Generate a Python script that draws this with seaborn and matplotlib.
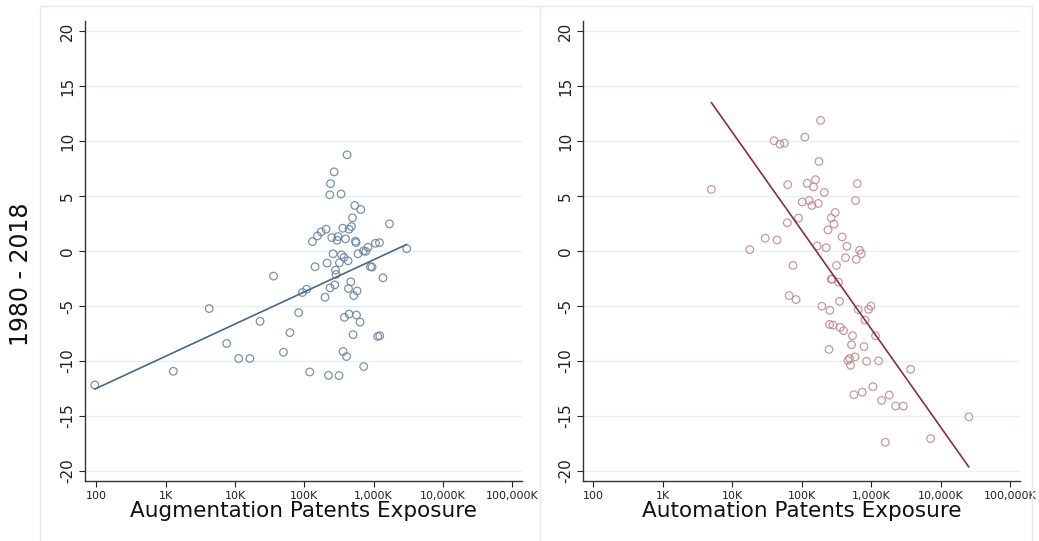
import numpy as np
import pandas as pd
import seaborn as sns
import matplotlib.pyplot as plt
from matplotlib.patches import Rectangle
from matplotlib.ticker import FixedLocator, FuncFormatter, NullLocator

# Augmentation exposure (x) vs. outcome (y)
aug_x = [414e3, 269e3, 239e3, 233e3, 339e3, 535e3, 652e3, 495e3, 1690e3, 479e3,
         442e3, 359e3, 206e3, 175e3, 155e3, 131e3, 249e3, 307e3, 297e3, 393e3,
         547e3, 557e3, 1062e3, 1213e3, 3000e3, 830e3, 713e3, 769e3, 596e3, 260e3,
         344e3, 374e3, 428e3, 321e3, 213e3, 143e3, 899e3, 948e3, 282e3, 287e3,
         36e3, 1365e3, 468e3, 275e3, 235e3, 434e3, 577e3, 517e3, 108e3, 94e3,
         199e3, 4.25e3, 83e3, 442e3, 379e3, 565e3, 637e3, 23e3, 62e3, 505e3,
         1146e3, 1224e3, 7.6e3, 50e3, 362e3, 406e3, 11.3e3, 16.4e3, 720e3, 1.29e3,
         120e3, 223e3, 317e3, 95]
aug_y = [8.74, 7.19, 6.12, 5.11, 5.18, 4.14, 3.77, 3.01, 2.47, 2.22,
         1.98, 2.07, 1.98, 1.74, 1.37, 0.85, 1.21, 1.31, 0.98, 1.10,
         0.89, 0.76, 0.70, 0.76, 0.21, 0.34, 0.0, -0.03, -0.25, -0.25,
         -0.34, -0.58, -0.89, -1.07, -1.10, -1.43, -1.43, -1.46, -1.74, -2.13,
         -2.28, -2.44, -2.80, -3.08, -3.35, -3.41, -3.63, -4.05, -3.47, -3.77,
         -4.20, -5.23, -5.60, -5.73, -6.03, -5.82, -6.46, -6.39, -7.42, -7.60,
         -7.76, -7.70, -8.40, -9.20, -9.13, -9.59, -9.77, -9.77, -10.50, -10.93,
         -10.99, -11.30, -11.32, -12.17]
aug_fit_x = [95, 3000e3]
aug_fit_y = [-12.55, 0.60]

# Automation exposure (x) vs. outcome (y)
aut_x = [5.0e3, 187e3, 111e3, 40e3, 48.5e3, 56.5e3, 177e3, 158e3, 120e3, 148e3,
         63e3, 211e3, 631e3, 596e3, 102e3, 128e3, 140e3, 173e3, 304e3, 266e3,
         291e3, 239e3, 90e3, 62e3, 29.8e3, 44e3, 17.9e3, 167e3, 225e3, 383e3,
         448e3, 681e3, 720e3, 610e3, 428e3, 75e3, 317e3, 266e3, 275e3, 339e3,
         66e3, 83e3, 351e3, 195e3, 255e3, 652e3, 918e3, 993e3, 814e3, 252e3,
         282e3, 359e3, 400e3, 540e3, 1157e3, 522e3, 788e3, 247e3, 585e3, 463e3,
         489e3, 505e3, 859e3, 1279e3, 3.70e6, 1062e3, 565e3, 745e3, 1413e3, 1824e3,
         2248e3, 2904e3, 25.5e6, 7.18e6, 1596e3]
aut_y = [5.60, 11.87, 10.35, 10.02, 9.71, 9.80, 8.13, 6.48, 6.15, 5.82,
         6.03, 5.32, 6.12, 4.59, 4.45, 4.59, 4.14, 4.32, 3.50, 3.01,
         2.44, 1.92, 2.99, 2.56, 1.16, 1.00, 0.12, 0.46, 0.30, 1.28,
         0.43, 0.06, -0.25, -0.76, -0.61, -1.31, -1.31, -2.56, -2.56, -2.83,
         -4.05, -4.41, -4.57, -5.02, -5.39, -5.32, -5.30, -5.00, -6.27, -6.67,
         -6.73, -6.94, -7.24, -7.70, -7.70, -8.52, -8.68, -8.95, -9.62, -9.95,
         -9.77, -10.38, -10.02, -9.98, -10.75, -12.33, -13.06, -12.83, -13.58, -13.09,
         -14.09, -14.09, -15.07, -17.05, -17.38]
aut_fit_x = [5.0e3, 25.5e6]
aut_fit_y = [13.49, -19.63]

x_ticks = [1e2, 1e3, 1e4, 1e5, 1e6, 1e7, 1e8]
x_tick_labels = ["100", "1K", "10K", "100K", "1,000K", "10,000K", "100,000K"]
y_ticks = [-20, -15, -10, -5, 0, 5, 10, 15, 20]

sns.set_theme(style="white")
plt.rcParams['font.family'] = ['DejaVu Sans']

W, H = 1039, 541
fig = plt.figure(figsize=(W / 100, H / 100), dpi=100)

# light panel frames
for x0, x1 in [(40, 540), (540, 1032)]:
    fig.patches.append(Rectangle((x0 / W, -0.05), (x1 - x0) / W, 1.05 - 6 / H,
                                 transform=fig.transFigure, fill=False,
                                 edgecolor="#e2ecef", linewidth=1.0, zorder=0))

panels = [
    dict(x=aug_x, y=aug_y, fx=aug_fit_x, fy=aug_fit_y, left=85, right=522,
         xlim=(68.7, 1.38e8), mcol="#6d87a3", lcol="#46698c",
         label="Augmentation Patents Exposure"),
    dict(x=aut_x, y=aut_y, fx=aut_fit_x, fy=aut_fit_y, left=583, right=1020,
         xlim=(71, 1.39e8), mcol="#c48d90", lcol="#8e2f36",
         label="Automation Patents Exposure"),
]

top_px, bot_px = 21, 481
for p in panels:
    ax = fig.add_axes([p["left"] / W, 1 - bot_px / H,
                       (p["right"] - p["left"]) / W, (bot_px - top_px) / H])
    df = pd.DataFrame({"x": p["x"], "y": p["y"]})
    fit = pd.DataFrame({"x": p["fx"], "y": p["fy"]})
    for yv in y_ticks:
        ax.axhline(yv, color="#e6eff1", linewidth=1.0, zorder=0)
    sns.scatterplot(data=df, x="x", y="y", ax=ax, marker="o", s=30,
                    facecolor="none", edgecolor=p["mcol"], linewidth=0.9,
                    alpha=0.9, zorder=3)
    sns.lineplot(data=fit, x="x", y="y", ax=ax, color=p["lcol"],
                 linewidth=1.2, zorder=4)
    ax.set_xscale("log")
    ax.set_xlim(*p["xlim"])
    ax.set_ylim(-20.9, 20.9)
    ax.xaxis.set_major_locator(FixedLocator(x_ticks))
    ax.xaxis.set_minor_locator(NullLocator())
    ax.xaxis.set_major_formatter(FuncFormatter(
        lambda v, pos: x_tick_labels[x_ticks.index(v)] if v in x_ticks else ""))
    ax.set_yticks(y_ticks)
    ax.set_yticklabels([str(v) for v in y_ticks], rotation=90, va="center",
                       fontsize=11, color="#222222")
    ax.tick_params(axis="x", labelsize=8, colors="#222222", length=4, width=0.8,
                   direction="out", bottom=True, pad=3)
    ax.tick_params(axis="y", length=4, width=0.8, direction="out", left=True, pad=3)
    for s in ["top", "right"]:
        ax.spines[s].set_visible(False)
    for s in ["left", "bottom"]:
        ax.spines[s].set_color("#333333")
        ax.spines[s].set_linewidth(1.0)
    ax.set_xlabel(p["label"], fontsize=15.5, color="#111111", labelpad=0)
    ax.set_ylabel("")
    ax.set_facecolor("none")
    ax.grid(False)

fig.text(21 / W, 1 - 274 / H, "1980 - 2018", rotation=90, fontsize=17,
         ha="center", va="center", color="#111111")

fig.savefig("out.png", dpi=100, facecolor="white")
